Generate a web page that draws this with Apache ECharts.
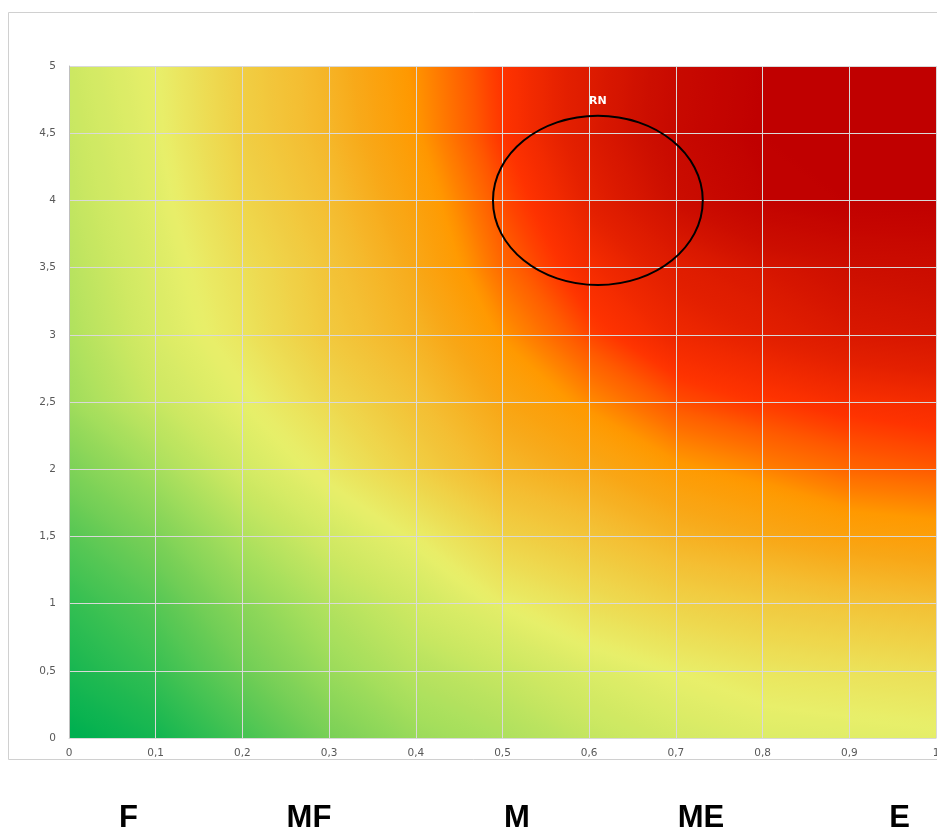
<!DOCTYPE html>
<html>
<head>
<meta charset="utf-8">
<script src="https://cdn.jsdelivr.net/npm/echarts@6/dist/echarts.min.js"></script>
<style>html,body{margin:0;padding:0;background:#fff;}#chart{width:937px;height:830px;}</style>
</head>
<body>
<div id="chart"></div>
<script>
// ---- data ----
const xTicks = [0, 0.1, 0.2, 0.3, 0.4, 0.5, 0.6, 0.7, 0.8, 0.9, 1];
const yTicks = [0, 0.5, 1, 1.5, 2, 2.5, 3, 3.5, 4, 4.5, 5];
// risk level (0 = green, 1 = dark red) read at every grid node, one array per y tick
const riskY00 = [0.00, 0.03, 0.12, 0.21, 0.28, 0.32, 0.36, 0.40, 0.42, 0.43, 0.44];
const riskY05 = [0.04, 0.10, 0.19, 0.28, 0.34, 0.37, 0.42, 0.45, 0.48, 0.49, 0.50];
const riskY10 = [0.09, 0.15, 0.25, 0.33, 0.39, 0.45, 0.50, 0.54, 0.56, 0.58, 0.60];
const riskY15 = [0.15, 0.22, 0.32, 0.40, 0.45, 0.54, 0.58, 0.63, 0.66, 0.69, 0.70];
const riskY20 = [0.22, 0.30, 0.40, 0.46, 0.55, 0.62, 0.66, 0.71, 0.74, 0.77, 0.78];
const riskY25 = [0.29, 0.38, 0.44, 0.52, 0.59, 0.67, 0.73, 0.79, 0.81, 0.82, 0.83];
const riskY30 = [0.32, 0.41, 0.48, 0.57, 0.63, 0.72, 0.80, 0.84, 0.86, 0.89, 0.90];
const riskY35 = [0.34, 0.42, 0.50, 0.58, 0.66, 0.77, 0.83, 0.87, 0.90, 0.93, 0.94];
const riskY40 = [0.36, 0.43, 0.53, 0.60, 0.69, 0.79, 0.86, 0.93, 0.99, 1.00, 1.00];
const riskY45 = [0.37, 0.44, 0.55, 0.62, 0.72, 0.81, 0.88, 0.96, 1.00, 1.00, 1.00];
const riskY50 = [0.38, 0.45, 0.55, 0.63, 0.73, 0.81, 0.88, 0.95, 1.00, 1.00, 1.00];
// highlighted zone
const zoneName = 'RN';
const zoneCenter = [0.61, 4.0];
const zoneRadius = [0.121, 0.63];
// bottom band labels
const bandLabels = ['F', 'MF', 'M', 'ME', 'E'];

// ---- styling / layout ----
const bandLabelX = [128.5, 309, 517, 701, 899.5];
const colorStops = [
  [0.00, '#00b050'], [0.10, '#38c052'], [0.20, '#72ce56'], [0.30, '#a4de5c'],
  [0.38, '#cce862'], [0.45, '#e8ef6a'], [0.52, '#eed84e'], [0.60, '#f4be32'],
  [0.66, '#f8a818'], [0.72, '#ff9900'], [0.78, '#ff5a00'], [0.81, '#ff3300'],
  [0.86, '#e42000'], [0.93, '#cc0e00'], [1.00, '#c00000']
];
function hexRgb(h) { return [parseInt(h.substr(1,2),16), parseInt(h.substr(3,2),16), parseInt(h.substr(5,2),16)]; }
const stopRgb = colorStops.map(s => [s[0], hexRgb(s[1])]);
function cmap(v) {
  v = Math.max(0, Math.min(1, v));
  for (let i = 1; i < stopRgb.length; i++) {
    if (v <= stopRgb[i][0]) {
      const a = stopRgb[i-1], b = stopRgb[i];
      const t = (v - a[0]) / (b[0] - a[0]);
      const c = a[1].map((x, k) => Math.round(x + (b[1][k] - x) * t));
      return 'rgb(' + c.join(',') + ')';
    }
  }
  return '#c00000';
}

const riskRows = [riskY00, riskY05, riskY10, riskY15, riskY20, riskY25, riskY30, riskY35, riskY40, riskY45, riskY50];
const cells = [];
for (let j = 0; j < yTicks.length - 1; j++) {
  for (let i = 0; i < xTicks.length - 1; i++) {
    cells.push([xTicks[i], yTicks[j], xTicks[i+1], yTicks[j+1],
      riskRows[j][i], riskRows[j][i+1], riskRows[j+1][i], riskRows[j+1][i+1]]);
  }
}

function renderCell(params, api) {
  const p0 = api.coord([api.value(0), api.value(1)]);
  const p1 = api.coord([api.value(2), api.value(3)]);
  const a = api.value(4), b = api.value(5), c = api.value(6), d = api.value(7);
  const left = p0[0], right = p1[0], top = p1[1], bottom = p0[1];
  const w = right - left, h = bottom - top;
  const vc = (a + b + c + d) / 4;
  const gs = ((b + d) - (a + c)) / 2;
  const gt = ((c + d) - (a + b)) / 2;
  const gx = gs / w, gy = -gt / h;
  const len = Math.hypot(gx, gy);
  let fill;
  if (len < 1e-9) {
    fill = cmap(vc);
  } else {
    const nx = gx / len, ny = gy / len;
    const cx = left + w / 2, cy = top + h / 2;
    const ext = Math.abs(nx) * w / 2 + Math.abs(ny) * h / 2;
    const vmin = vc - len * ext, vmax = vc + len * ext;
    const stops = [];
    const N = 12;
    for (let k = 0; k <= N; k++) {
      const t = k / N;
      stops.push({ offset: t, color: cmap(vmin + (vmax - vmin) * t) });
    }
    fill = new echarts.graphic.LinearGradient(cx - nx * ext, cy - ny * ext, cx + nx * ext, cy + ny * ext, stops, true);
  }
  return { type: 'rect', shape: { x: left, y: top, width: w + 0.5, height: h + 0.5 }, style: { fill: fill } };
}

function renderZone(params, api) {
  const c = api.coord([api.value(0), api.value(1)]);
  const rx = api.size([api.value(2), 0])[0];
  const ry = api.size([0, api.value(3)])[1];
  return {
    type: 'group',
    children: [
      { type: 'ellipse', shape: { cx: c[0], cy: c[1], rx: rx, ry: ry },
        style: { fill: 'none', stroke: '#000', lineWidth: 2 } },
      { type: 'text', x: c[0], y: c[1] - ry - 15,
        style: { text: zoneName, fill: '#ffffff', font: 'bold 11px "DejaVu Sans"', align: 'center', verticalAlign: 'middle' } }
    ]
  };
}

const fmt = v => String(+Number(v).toFixed(1)).replace('.', ',');

const chart = echarts.init(document.getElementById('chart'), null, { renderer: 'canvas' });
chart.setOption({
  animation: false,
  backgroundColor: '#ffffff',
  grid: { left: 69, top: 66, width: 867, height: 672, containLabel: false, outerBoundsMode: 'none' },
  xAxis: {
    type: 'value', min: 0, max: 1, interval: 0.1, z: 3,
    axisLine: { show: true, lineStyle: { color: '#d9d9d9', width: 1 } },
    axisTick: { show: false },
    splitLine: { show: true, lineStyle: { color: '#d9d9d9', width: 1 } },
    axisLabel: { formatter: fmt, color: '#595959', fontSize: 10.5, fontFamily: 'DejaVu Sans', margin: 10, hideOverlap: false }
  },
  yAxis: {
    type: 'value', min: 0, max: 5, interval: 0.5, z: 3,
    axisLine: { show: true, lineStyle: { color: '#bfbfbf', width: 1 } },
    axisTick: { show: false },
    splitLine: { show: true, lineStyle: { color: '#d9d9d9', width: 1 } },
    axisLabel: { formatter: fmt, color: '#595959', fontSize: 10.5, fontFamily: 'DejaVu Sans', margin: 13 }
  },
  graphic: [
    { type: 'rect', z: -10, shape: { x: 8.5, y: 12.5, width: 940, height: 747 },
      style: { fill: 'none', stroke: '#d0d0d0', lineWidth: 1 } }
  ].concat(bandLabels.map((t, i) => ({
    type: 'text', x: bandLabelX[i], y: 818, z: 10,
    style: { text: t, fill: '#000', font: 'bold 31px "Liberation Sans", Arial, sans-serif', align: 'center', verticalAlign: 'middle' }
  }))),
  series: [
    { type: 'custom', z: 1, renderItem: renderCell, data: cells, encode: { x: [0, 2], y: [1, 3] }, silent: true, clip: true },
    { type: 'custom', z: 10, renderItem: renderZone, data: [[zoneCenter[0], zoneCenter[1], zoneRadius[0], zoneRadius[1]]], encode: { x: 0, y: 1 }, silent: true }
  ]
});
</script>
</body>
</html>
